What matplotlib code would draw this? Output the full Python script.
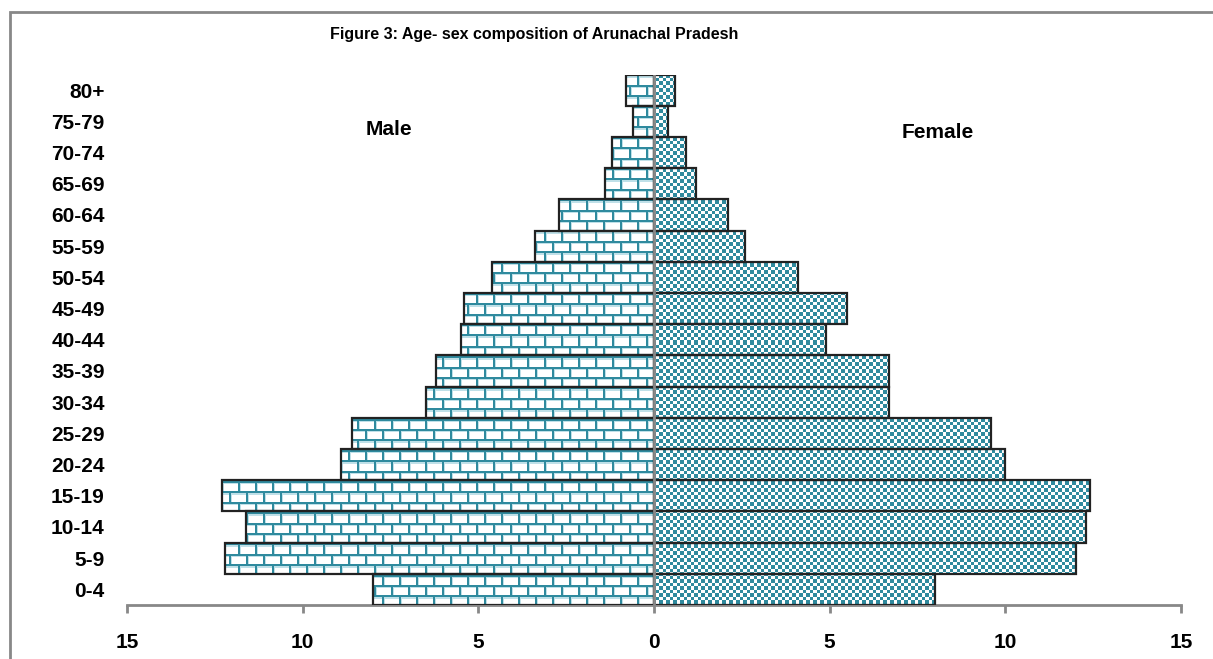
import numpy as np
import matplotlib
matplotlib.use("Agg")
import matplotlib.pyplot as plt
from matplotlib.path import Path
from matplotlib.patches import PathPatch, Rectangle
from matplotlib.colors import to_rgb

plt.rcParams['font.family'] = ['Liberation Sans', 'DejaVu Sans']

# age groups, bottom to top
ages = ['0-4', '5-9', '10-14', '15-19', '20-24', '25-29', '30-34', '35-39',
        '40-44', '45-49', '50-54', '55-59', '60-64', '65-69', '70-74', '75-79', '80+']
male = [8.0, 12.2, 11.6, 12.3, 8.9, 8.6, 6.5, 6.2, 5.5, 5.4, 4.6, 3.4, 2.7, 1.4, 1.2, 0.6, 0.8]
female = [8.0, 12.0, 12.3, 12.4, 10.0, 9.6, 6.7, 6.7, 4.9, 5.5, 4.1, 2.6, 2.1, 1.2, 0.9, 0.4, 0.6]
xticks = [-15, -10, -5, 0, 5, 10, 15]

teal = np.array(to_rgb('#2f8a9e'))
light = np.array(to_rgb('#bfe0e8'))
white = np.ones(3)
grey = '#888888'

W, H = 1213, 659
fig = plt.figure(figsize=(W / 100, H / 100), dpi=100)
ax_l, ax_r, ax_t, ax_b = 127, 1181, 74.5, 605
ax = fig.add_axes([ax_l / W, 1 - ax_b / H, (ax_r - ax_l) / W, (ax_b - ax_t) / H])

y = np.arange(len(ages))
mbars = ax.barh(y, [-v for v in male], height=1.0, facecolor='none',
                edgecolor='#222222', linewidth=1.6, zorder=3)
fbars = ax.barh(y, female, height=1.0, facecolor='none',
                edgecolor='#222222', linewidth=1.6, zorder=3)
ax.set_xlim(-15, 15)
ax.set_ylim(-0.5, len(ages) - 0.5)

# pixel textures (brick for male, checkerboard for female)
pw, ph = int(ax_r - ax_l), int(ax_b - ax_t)
rr, cc = np.mgrid[0:ph, 0:pw].astype(float)
row = np.floor(rr / 10.4)
fy = rr - row * 10.4
cx = cc + (row % 2) * 8.5
fx = cx % 17
brick = np.empty((ph, pw, 3))
brick[:] = white
brick[(fy >= 2) & (fy < 3.2) | (fx >= 2) & (fx < 3)] = light
brick[(fy < 2) | (fx < 2)] = teal

chk = (np.floor(rr / 3.5) + np.floor(cc / 3.5)) % 2 == 0
check = np.empty((ph, pw, 3))
check[:] = white
check[chk] = teal


def clip_to(bars):
    paths = [b.get_path().transformed(b.get_patch_transform()) for b in bars]
    return PathPatch(Path.make_compound_path(*paths), transform=ax.transData)


ext = (-15, 15, -0.5, len(ages) - 0.5)
im1 = ax.imshow(brick, extent=ext, aspect='auto', interpolation='nearest', zorder=2)
im1.set_clip_path(clip_to(mbars))
im2 = ax.imshow(check, extent=ext, aspect='auto', interpolation='nearest', zorder=2)
im2.set_clip_path(clip_to(fbars))

ax.axvline(0, color=grey, linewidth=2, zorder=4)

for s in ['top', 'right', 'left']:
    ax.spines[s].set_visible(False)
ax.spines['bottom'].set_color(grey)
ax.spines['bottom'].set_linewidth(2)

ax.set_xticks(xticks)
ax.set_xticklabels([str(abs(t)) for t in xticks], fontsize=15, fontweight='bold')
ax.tick_params(axis='x', direction='out', length=6, width=2, color=grey, pad=14)
ax.set_yticks(y)
ax.set_yticklabels(ages, fontsize=15, fontweight='bold')
ax.tick_params(axis='y', length=0, pad=16)

ax.text(-7.55, 14.75, 'Male', ha='center', va='center', fontsize=15, fontweight='bold')
ax.text(8.08, 14.65, 'Female', ha='center', va='center', fontsize=15, fontweight='bold')

fig.text(534 / W, 1 - 35 / H, 'Figure 3: Age- sex composition of Arunachal Pradesh',
         ha='center', va='center', fontsize=11.5, fontweight='bold',
         family=['Liberation Sans Narrow', 'Liberation Sans'])

# outer frame (only the top and left edges fall inside the picture)
fig.add_artist(Rectangle((10 / W, -0.1), 1.2, 1.1 - 12 / H, transform=fig.transFigure,
                         fill=False, edgecolor=grey, linewidth=2))

fig.savefig('out.png', dpi=100)
